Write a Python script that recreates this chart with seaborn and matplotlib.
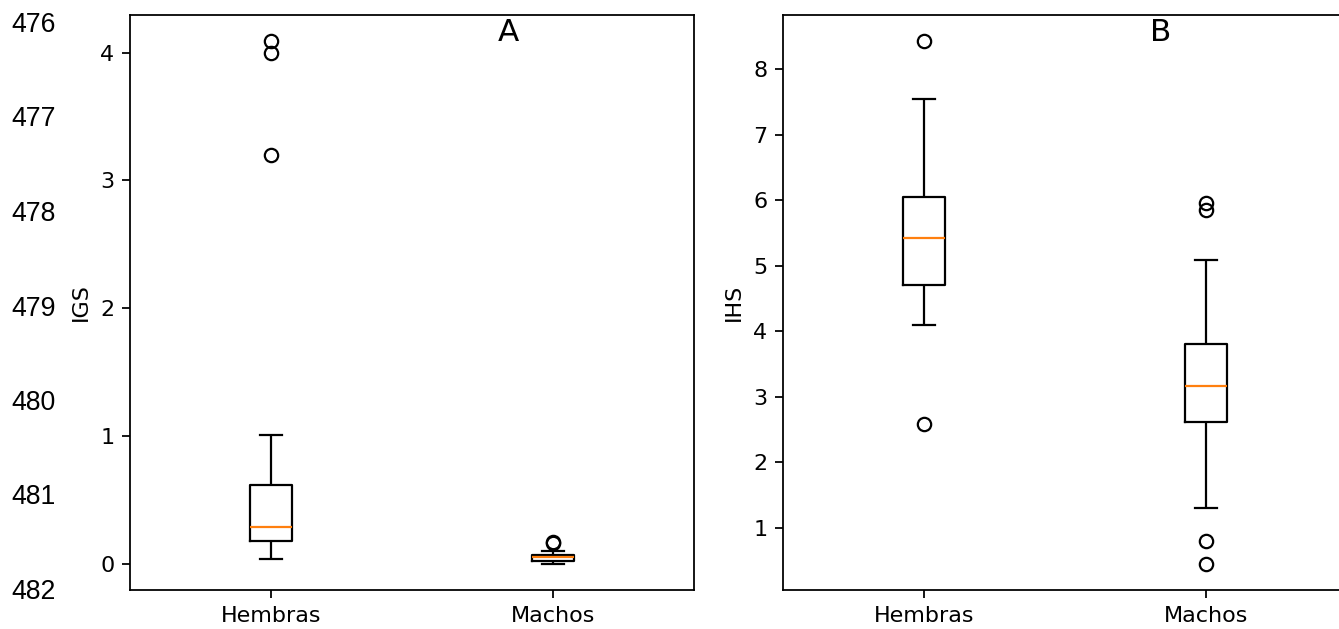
import numpy as np
import pandas as pd
import matplotlib
matplotlib.use("Agg")
import matplotlib.pyplot as plt
import seaborn as sns

# Gonadosomatic index (IGS) per sex
igs_hembras = [0.04, 0.08, 0.11, 0.14, 0.16, 0.18, 0.20, 0.22, 0.25, 0.27, 0.29,
               0.33, 0.38, 0.45, 0.53, 0.62, 0.74, 1.01, 3.20, 4.00, 4.09]
igs_machos = [0.00, 0.005, 0.01, 0.015, 0.02, 0.025, 0.03, 0.035, 0.04, 0.045, 0.05,
              0.052, 0.055, 0.06, 0.065, 0.07, 0.075, 0.08, 0.10, 0.16, 0.17]

# Hepatosomatic index (IHS) per sex
ihs_hembras = [2.58, 4.10, 4.35, 4.52, 4.64, 4.71, 4.88, 5.02, 5.18, 5.31, 5.43,
               5.55, 5.68, 5.80, 5.93, 6.05, 6.30, 6.62, 7.05, 7.54, 8.43]
ihs_machos = [0.45, 0.80, 1.31, 1.90, 2.35, 2.62, 2.75, 2.88, 2.98, 3.08, 3.16,
              3.27, 3.40, 3.55, 3.68, 3.80, 4.10, 4.55, 5.09, 5.85, 5.96]

sexos = ["Hembras", "Machos"]
paneles = ["A", "B"]
numeros_linea = ["476", "477", "478", "479", "480", "481", "482"]


def long_form(col, hembras, machos):
    return pd.DataFrame({
        "Sexo": [sexos[0]] * len(hembras) + [sexos[1]] * len(machos),
        col: list(hembras) + list(machos),
    })


df_igs = long_form("IGS", igs_hembras, igs_machos)
df_ihs = long_form("IHS", ihs_hembras, ihs_machos)

W, H, DPI = 1339, 629, 160
fig = plt.figure(figsize=(W / DPI, H / DPI), dpi=DPI)
ax_a = fig.add_axes([130 / W, 1 - 590 / H, 564 / W, 575 / H])
ax_b = fig.add_axes([783 / W, 1 - 590 / H, 564 / W, 575 / H])

box_kw = dict(
    order=sexos, width=0.15, fill=False, color="black", linewidth=1.0,
    medianprops=dict(color="#ff7f0e", linewidth=1.0),
    flierprops=dict(marker="o", markerfacecolor="none",
                    markeredgecolor="black", markersize=6, markeredgewidth=1.0),
    fliersize=6,
)

for ax, df, col, letra in [(ax_a, df_igs, "IGS", paneles[0]),
                           (ax_b, df_ihs, "IHS", paneles[1])]:
    sns.boxplot(data=df, x="Sexo", y=col, ax=ax, **box_kw)
    ax.set_xlabel("")
    ax.set_ylabel(col)
    ax.set_xlim(-0.5, 1.5)
    ax.autoscale(axis="y")
    for s in ax.spines.values():
        s.set_color("black")
        s.set_linewidth(0.8)
    ax.text(0.67, 0.969, letra, transform=ax.transAxes, ha="center",
            va="center", fontsize=14)

ax_a.set_yticks([0, 1, 2, 3, 4])
ax_b.set_yticks([1, 2, 3, 4, 5, 6, 7, 8])

# Document line numbers in the left margin
ys = np.linspace(25, 592, len(numeros_linea))
for y, t in zip(ys, numeros_linea):
    fig.text(11 / W, 1 - y / H, t, ha="left", va="center", fontsize=12,
             family="Liberation Sans")

fig.savefig("out.png", dpi=DPI)
